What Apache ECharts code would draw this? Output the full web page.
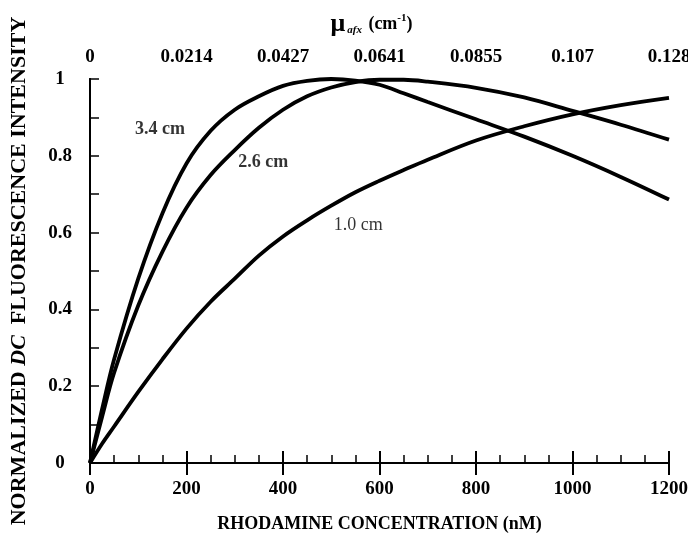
<!DOCTYPE html>
<html>
<head>
<meta charset="utf-8">
<script src="https://cdn.jsdelivr.net/npm/echarts@6/dist/echarts.min.js"></script>
<style>html,body{margin:0;padding:0;background:#fff}#c{width:688px;height:534px}</style>
</head>
<body>
<div id="c"></div>
<script>
// Rhodamine concentration (nM)
var conc = [0, 25, 50, 100, 150, 200, 250, 300, 350, 400, 450, 500, 550, 600, 650, 700, 800, 900, 1000, 1100, 1200];
var s34 = [0, 0.14, 0.27, 0.48, 0.65, 0.78, 0.865, 0.92, 0.955, 0.982, 0.995, 1.0, 0.996, 0.985, 0.963, 0.94, 0.895, 0.85, 0.80, 0.745, 0.686];
var s26 = [0, 0.12, 0.235, 0.41, 0.55, 0.665, 0.75, 0.815, 0.873, 0.92, 0.955, 0.978, 0.992, 0.998, 0.998, 0.993, 0.977, 0.952, 0.917, 0.881, 0.842];
var s10 = [0, 0.05, 0.095, 0.185, 0.27, 0.35, 0.42, 0.48, 0.54, 0.59, 0.632, 0.67, 0.705, 0.735, 0.763, 0.79, 0.84, 0.877, 0.908, 0.932, 0.951];
var topLabels = ['0', '0.0214', '0.0427', '0.0641', '0.0855', '0.107', '0.128'];
var seriesNames = ['3.4 cm', '2.6 cm', '1.0 cm'];
var curveLabelAt = [[145, 0.87], [359, 0.782], [556, 0.62]];

function pairs(v) { return conc.map(function (x, i) { return [x, v[i]]; }); }
var FONT = 'Liberation Serif';
var chart = echarts.init(document.getElementById('c'));
var lab = { color: '#000', fontFamily: FONT, fontWeight: 'bold', fontSize: 19 };
var data = [s34, s26, s10];
var series = data.map(function (d, i) {
  return {
    name: seriesNames[i], type: 'line', data: pairs(d), smooth: 0.35, symbol: 'none',
    lineStyle: { color: '#000', width: 3.8 }, z: 3
  };
});
series.push({
  type: 'scatter', symbolSize: 1, itemStyle: { color: 'rgba(0,0,0,0)' }, silent: true, z: 5,
  data: curveLabelAt.map(function (p, i) { return { value: p, name: seriesNames[i] }; }),
  label: {
    show: true, position: 'inside', color: '#000', fontFamily: FONT, fontSize: 18,
    formatter: function (p) { return p.dataIndex < 2 ? '{b|' + p.name + '}' : '{r|' + p.name + '}'; },
    rich: {
      b: { fontFamily: FONT, fontWeight: 'bold', fontSize: 18, color: '#000' },
      r: { fontFamily: FONT, fontWeight: 'normal', fontSize: 18, color: '#000' }
    }
  }
});
chart.setOption({
  animation: false,
  backgroundColor: '#fff',
  grid: { left: 90, right: 19, top: 79, bottom: 71, containLabel: false, outerBoundsMode: 'none' },
  xAxis: [{
    type: 'value', min: 0, max: 1200, interval: 200, position: 'bottom',
    name: 'RHODAMINE CONCENTRATION (nM)', nameLocation: 'middle', nameGap: 52,
    nameTextStyle: { color: '#000', fontFamily: FONT, fontWeight: 'bold', fontSize: 18 },
    axisLine: { show: true, lineStyle: { color: '#000', width: 2 } },
    axisTick: { show: true, inside: true, length: 12, lineStyle: { color: '#000', width: 2 } },
    minorTick: { show: true, splitNumber: 4, length: 8, lineStyle: { color: '#000', width: 1.5 } },
    splitLine: { show: false },
    axisLabel: Object.assign({ margin: 17, formatter: function (v) { return String(v); } }, lab)
  }, {
    type: 'value', min: 0, max: 1200, interval: 200, position: 'top',
    name: '{mu|μ}{sub|afx}{n| (cm}{sup|-1}{n|)}', nameLocation: 'middle', nameGap: 42,
    nameTextStyle: {
      color: '#000', fontFamily: FONT, fontWeight: 'bold', fontSize: 18, padding: [0, 16, 0, 0],
      rich: {
        mu: { fontSize: 26, fontFamily: FONT, fontWeight: 'bold', color: '#000' },
        n: { fontSize: 18, fontFamily: FONT, fontWeight: 'bold', color: '#000' },
        sub: { fontSize: 11, fontFamily: FONT, fontStyle: 'italic', fontWeight: 'bold', color: '#000', padding: [12, 2, 0, 2] },
        sup: { fontSize: 11, fontFamily: FONT, fontWeight: 'bold', color: '#000', padding: [0, 0, 12, 0] }
      }
    },
    axisLine: { show: true, lineStyle: { color: '#000', width: 2 } },
    axisTick: { show: true, inside: true, length: 12, lineStyle: { color: '#000', width: 2 } },
    splitLine: { show: false },
    axisLabel: Object.assign({ margin: 12, formatter: function (v) { return topLabels[Math.round(v / 200)]; } }, lab)
  }],
  yAxis: [{
    type: 'value', min: 0, max: 1, interval: 0.2, position: 'left',
    name: '{n|NORMALIZED }{i|DC}{n|  FLUORESCENCE INTENSITY}', nameLocation: 'middle', nameGap: 60,
    nameTextStyle: {
      color: '#000', fontFamily: FONT, fontWeight: 'bold', fontSize: 22,
      rich: {
        n: { fontFamily: FONT, fontWeight: 'bold', fontSize: 22, color: '#000' },
        i: { fontFamily: FONT, fontWeight: 'bold', fontStyle: 'italic', fontSize: 22, color: '#000' }
      }
    },
    axisLine: { show: true, lineStyle: { color: '#000', width: 2 } },
    axisTick: { show: true, inside: true, length: 9, lineStyle: { color: '#000', width: 1.5 } },
    minorTick: { show: true, splitNumber: 2, length: 9, lineStyle: { color: '#000', width: 1.5 } },
    splitLine: { show: false },
    axisLabel: Object.assign({ margin: 30, align: 'center' }, lab)
  }, {
    type: 'value', min: 0, max: 1, position: 'right',
    axisLine: { show: true, lineStyle: { color: '#000', width: 2 } },
    axisTick: { show: false }, axisLabel: { show: false }, splitLine: { show: false }
  }],
  series: series
});
</script>
</body>
</html>
